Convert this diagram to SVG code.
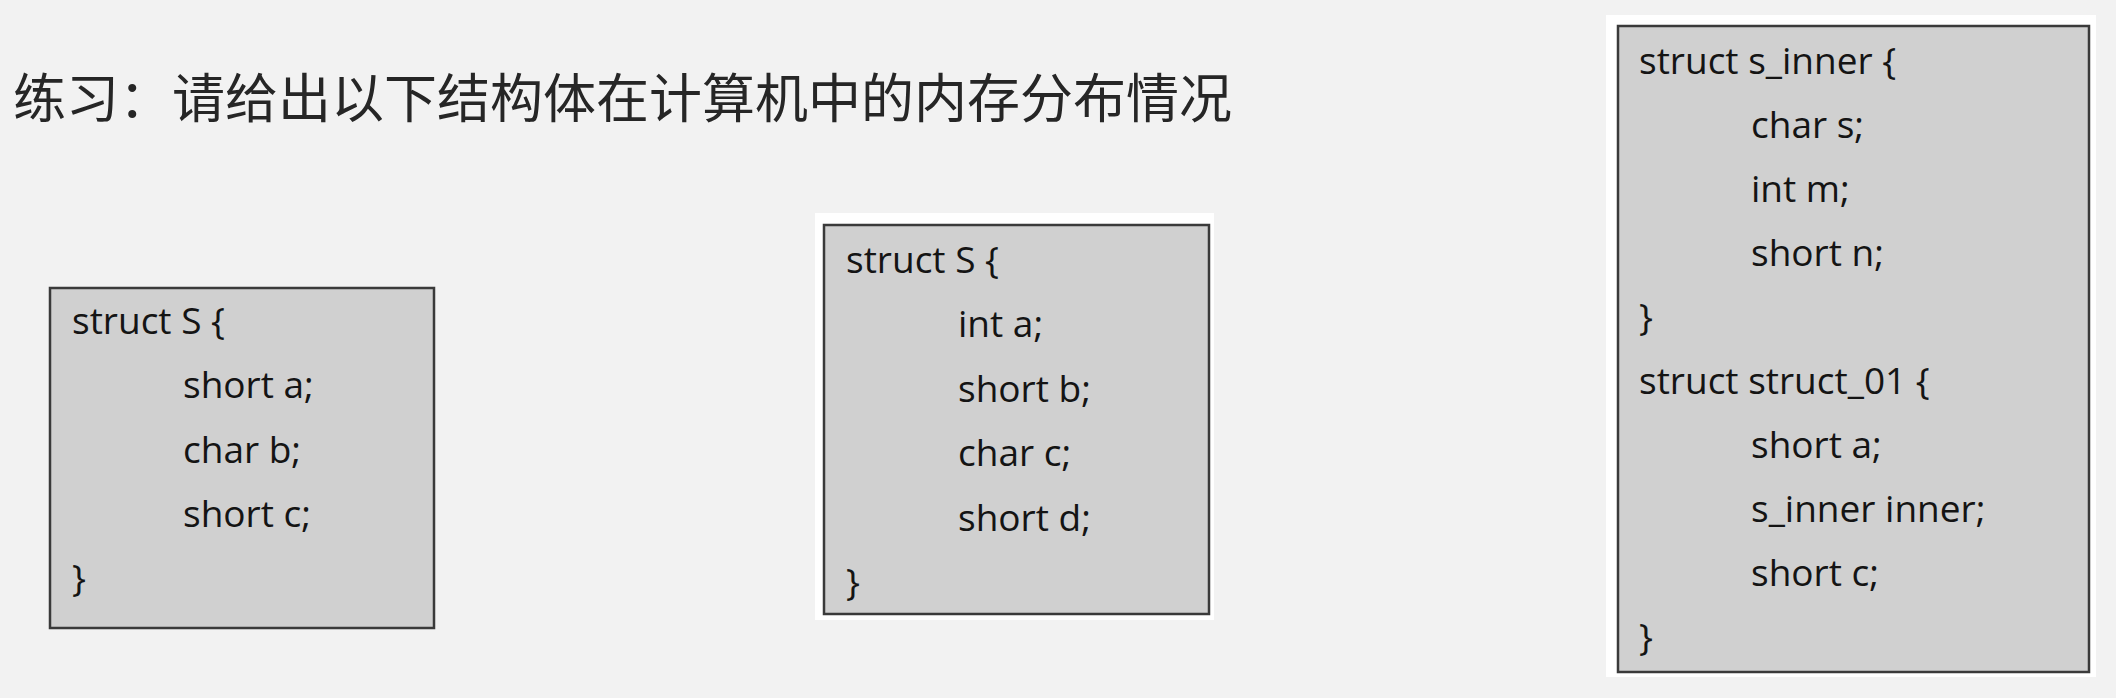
<svg xmlns="http://www.w3.org/2000/svg" width="2116" height="698" viewBox="0 0 2116 698">
<style>
.bg{fill:#f2f2f2}
.pad{fill:#ffffff}
.box{fill:#d0d0d0;stroke:#3a3a3a;stroke-width:2.5}
.code{font-family:"Open Sans","Noto Sans","DejaVu Sans",sans-serif;font-size:37px;fill:#141414}
.title{font-family:"Noto Sans CJK SC","Noto Sans",sans-serif;font-size:53px;fill:#262626}
</style>
<rect class="bg" x="0" y="0" width="2116" height="698"/>
<g id="title">
<text class="title" x="13" y="118">练习：请给出以下结构体在计算机中的内存分布情况</text>
</g>
<g id="struct1">
<rect class="box" x="50" y="288" width="384" height="340"/>
<text class="code" x="72" y="334">struct S {</text>
<text class="code" x="183" y="398">short a;</text>
<text class="code" x="183" y="463">char b;</text>
<text class="code" x="183" y="527">short c;</text>
<text class="code" x="72" y="591">}</text>
</g>
<g id="struct2">
<rect class="pad" x="815" y="213" width="399" height="407"/>
<rect class="box" x="824" y="225" width="385" height="389"/>
<text class="code" x="846" y="273">struct S {</text>
<text class="code" x="958" y="337">int a;</text>
<text class="code" x="958" y="402">short b;</text>
<text class="code" x="958" y="466">char c;</text>
<text class="code" x="958" y="531">short d;</text>
<text class="code" x="846" y="595">}</text>
</g>
<g id="struct3">
<rect class="pad" x="1606" y="15" width="490" height="662"/>
<rect class="box" x="1618" y="26" width="471" height="646"/>
<text class="code" x="1639" y="74">struct s_inner {</text>
<text class="code" x="1751" y="138">char s;</text>
<text class="code" x="1751" y="202">int m;</text>
<text class="code" x="1751" y="266">short n;</text>
<text class="code" x="1639" y="330">}</text>
<text class="code" x="1639" y="394">struct struct_01 {</text>
<text class="code" x="1751" y="458">short a;</text>
<text class="code" x="1751" y="522">s_inner inner;</text>
<text class="code" x="1751" y="586">short c;</text>
<text class="code" x="1639" y="650">}</text>
</g>
<g id="connectors"/>
</svg>
